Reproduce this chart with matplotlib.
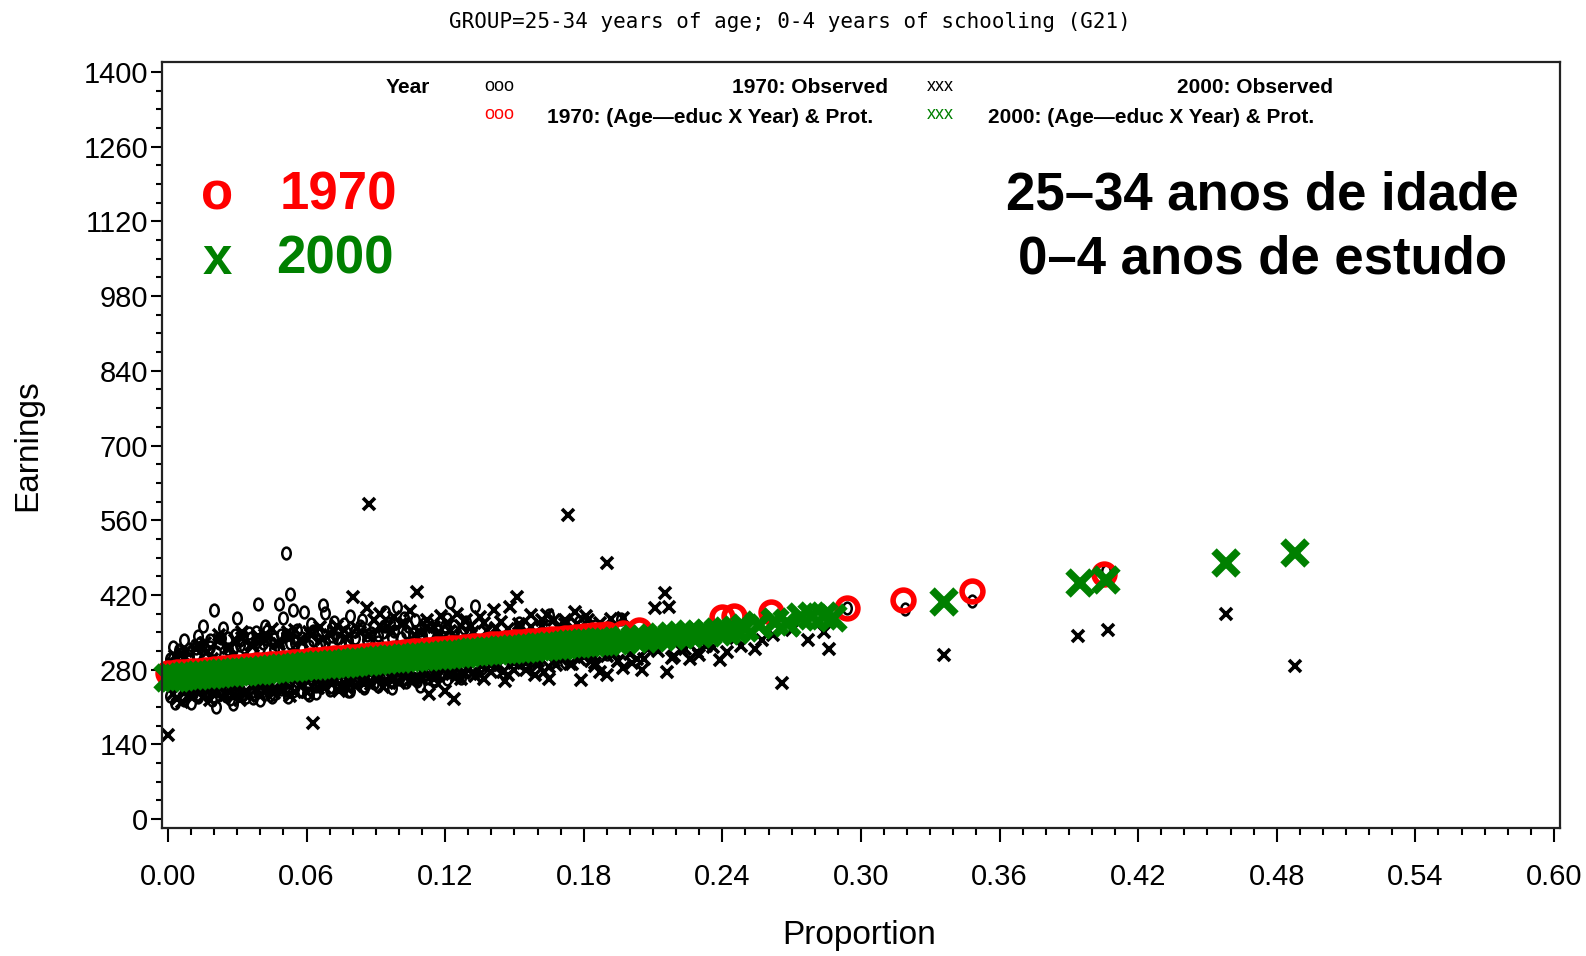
import matplotlib
matplotlib.use('Agg')
import matplotlib.pyplot as plt
from matplotlib.path import Path
from matplotlib.transforms import Affine2D
from matplotlib.ticker import MultipleLocator, FormatStrFormatter

plt.rcParams['font.family'] = ['Liberation Sans', 'DejaVu Sans']

title = 'GROUP=25-34 years of age; 0-4 years of schooling (G21)'

# 1970 observed (small black circles)
obs70_x = [0.001, 0.002, 0.004, 0.003, 0.006, 0.005, 0.007, 0.008, 0.009, 0.006,
           0.010, 0.012, 0.013, 0.015, 0.015, 0.017, 0.018, 0.019, 0.011, 0.016,
           0.020, 0.021, 0.022, 0.024, 0.025, 0.027, 0.028, 0.029, 0.026, 0.023,
           0.030, 0.031, 0.032, 0.034, 0.035, 0.036, 0.037, 0.038, 0.039, 0.039,
           0.040, 0.041, 0.042, 0.043, 0.044, 0.045, 0.046, 0.047, 0.048, 0.049,
           0.050, 0.051, 0.052, 0.053, 0.054, 0.054, 0.055, 0.056, 0.058, 0.059,
           0.060, 0.061, 0.062, 0.063, 0.064, 0.066, 0.067, 0.068, 0.069, 0.070,
           0.071, 0.072, 0.073, 0.075, 0.076, 0.077, 0.078, 0.079, 0.079,
           0.081, 0.082, 0.083, 0.085, 0.086, 0.087, 0.088, 0.089,
           0.091, 0.092, 0.094, 0.094, 0.096, 0.097, 0.099, 0.099,
           0.100, 0.102, 0.103, 0.104, 0.106, 0.108, 0.109,
           0.111, 0.111, 0.113, 0.115, 0.117, 0.118,
           0.120, 0.122, 0.122, 0.124, 0.126, 0.128,
           0.133, 0.136, 0.140, 0.145, 0.152, 0.160, 0.165, 0.172, 0.178, 0.185, 0.190, 0.196,
           0.294, 0.319, 0.348, 0.406,
           0.002, 0.005, 0.009, 0.012, 0.014, 0.018, 0.021, 0.023, 0.026, 0.029,
           0.031, 0.033, 0.036, 0.038, 0.041, 0.043, 0.046, 0.048, 0.051, 0.053,
           0.056, 0.058, 0.061, 0.063, 0.065, 0.068, 0.071, 0.073, 0.076, 0.078,
           0.081, 0.084, 0.086, 0.089, 0.091, 0.093, 0.096, 0.098, 0.101, 0.104,
           0.107, 0.110, 0.113, 0.116, 0.119, 0.121, 0.124, 0.127, 0.129,
           0.001, 0.004, 0.007, 0.010, 0.013, 0.016, 0.019, 0.022, 0.025, 0.028,
           0.031, 0.034, 0.037, 0.040, 0.043, 0.046, 0.049, 0.052, 0.055, 0.058,
           0.061, 0.064, 0.067, 0.070, 0.073, 0.076, 0.079, 0.082, 0.085, 0.088,
           0.091, 0.094, 0.097, 0.100, 0.103, 0.106, 0.109, 0.112, 0.115, 0.118,
           0.121, 0.124, 0.127]
obs70_y = [300, 323, 241, 218, 228, 317, 336, 252, 305, 262,
           218, 310, 342, 361, 247, 232, 322, 240, 236, 305,
           391, 209, 330, 357, 245, 224, 318, 236, 340, 252,
           376, 326, 232, 250, 348, 315, 226, 332, 403, 237,
           320, 245, 361, 338, 232, 228, 318, 255, 403, 345,
           376, 498, 248, 422, 391, 239, 330, 258, 322, 388,
           236, 232, 365, 335, 250, 328, 401, 386, 260, 247,
           342, 370, 255, 332, 248, 350, 239, 380, 266,
           340, 262, 361, 250, 336, 270, 348, 255,
           345, 265, 388, 361, 258, 340, 397, 270,
           262, 376, 350, 272, 346, 258, 355,
           270, 365, 348, 262, 352, 276,
           362, 407, 275, 350, 268, 358,
           399, 282, 355, 290, 368, 300, 382, 295, 370, 361, 310, 375,
           395, 393, 409, 465,
           301, 310, 318, 320, 330, 335, 312, 340, 318, 345,
           335, 322, 340, 350, 330, 352, 338, 322, 345, 330,
           355, 340, 325, 352, 345, 332, 358, 340, 365, 335,
           352, 372, 345, 360, 332, 350, 368, 352, 340, 362,
           372, 345, 365, 358, 340, 375, 362, 348, 370,
           230, 238, 222, 244, 228, 238, 222, 240, 230, 215,
           242, 228, 240, 222, 248, 235, 244, 228, 250, 240,
           252, 236, 255, 242, 262, 250, 240, 258, 245, 262,
           250, 266, 245, 270, 256, 265, 250, 272, 258, 270,
           262, 278, 265]

# 2000 observed (small black x)
obs00_x = [0.000, 0.002, 0.004, 0.006, 0.008, 0.009, 0.003, 0.007,
           0.011, 0.012, 0.014, 0.016, 0.018, 0.019, 0.013, 0.017,
           0.021, 0.022, 0.024, 0.026, 0.027, 0.029, 0.023, 0.028,
           0.031, 0.032, 0.034, 0.036, 0.037, 0.039, 0.033, 0.038,
           0.040, 0.042, 0.043, 0.045, 0.046, 0.048, 0.044, 0.049,
           0.050, 0.052, 0.053, 0.055, 0.057, 0.058, 0.051, 0.056,
           0.060, 0.061, 0.063, 0.064, 0.066, 0.068, 0.062, 0.067,
           0.070, 0.071, 0.073, 0.074, 0.076, 0.078, 0.072, 0.077,
           0.080, 0.081, 0.083, 0.084, 0.086, 0.087, 0.088, 0.089, 0.082, 0.085,
           0.090, 0.092, 0.093, 0.095, 0.096, 0.098, 0.091, 0.097,
           0.100, 0.101, 0.103, 0.105, 0.106, 0.108, 0.109, 0.102, 0.107,
           0.110, 0.112, 0.113, 0.115, 0.116, 0.118, 0.111, 0.117,
           0.120, 0.121, 0.123, 0.124, 0.125, 0.127, 0.129, 0.122, 0.128,
           0.130, 0.131, 0.133, 0.135, 0.136, 0.138, 0.132, 0.137,
           0.140, 0.141, 0.143, 0.144, 0.146, 0.148, 0.142, 0.147,
           0.150, 0.151, 0.153, 0.155, 0.157, 0.159, 0.152, 0.158,
           0.160, 0.162, 0.164, 0.165, 0.167, 0.169, 0.163,
           0.168, 0.172, 0.173, 0.176, 0.179, 0.178, 0.174,
           0.181, 0.185, 0.184, 0.188, 0.183, 0.187,
           0.190, 0.190, 0.193, 0.197, 0.195,
           0.205, 0.203, 0.208, 0.201,
           0.211, 0.215, 0.217, 0.216, 0.219,
           0.222, 0.229, 0.239, 0.233, 0.226,
           0.257, 0.266, 0.277, 0.284, 0.286, 0.262, 0.270, 0.246,
           0.336, 0.394, 0.407, 0.458, 0.488,
           0.003, 0.008, 0.013, 0.017, 0.022, 0.027, 0.032, 0.037, 0.042, 0.047,
           0.052, 0.057, 0.062, 0.067, 0.072, 0.077, 0.082, 0.087, 0.092, 0.097,
           0.102, 0.107, 0.112, 0.117, 0.122, 0.127, 0.132, 0.137, 0.142, 0.147,
           0.152, 0.157, 0.162, 0.167, 0.172, 0.177, 0.182, 0.187, 0.192, 0.197,
           0.002, 0.006, 0.010, 0.015, 0.020, 0.025, 0.030, 0.035, 0.040, 0.045,
           0.050, 0.055, 0.060, 0.065, 0.070, 0.075, 0.080, 0.085, 0.090, 0.095,
           0.100, 0.105, 0.110, 0.115, 0.120, 0.125, 0.130, 0.135, 0.140, 0.145,
           0.150, 0.155, 0.160, 0.165, 0.170, 0.175, 0.180, 0.185, 0.190, 0.195,
           0.200, 0.206, 0.212, 0.218, 0.224, 0.230, 0.236, 0.242, 0.248, 0.254]
obs00_y = [158, 290, 225, 310, 240, 232, 262, 300,
           228, 318, 250, 330, 222, 300, 236, 245,
           238, 345, 228, 320, 242, 335, 250, 232,
           222, 350, 240, 326, 248, 342, 236, 255,
           230, 336, 246, 356, 236, 328, 252, 240,
           244, 340, 230, 355, 250, 332, 255, 262,
           238, 350, 180, 258, 360, 245, 262, 252,
           345, 252, 362, 240, 355, 258, 265, 248,
           416, 250, 350, 262, 395, 590, 252, 372, 268, 258,
           260, 385, 248, 360, 268, 378, 272, 262,
           255, 365, 266, 390, 258, 425, 350, 272, 264,
           262, 372, 234, 360, 268, 380, 276, 270,
           240, 368, 272, 225, 385, 262, 372, 280, 276,
           280, 362, 268, 378, 286, 352, 274, 262,
           275, 392, 290, 370, 258, 398, 282, 270,
           280, 416, 362, 292, 382, 270, 288, 296,
           288, 372, 382, 262, 296, 360, 276,
           289, 373, 570, 388, 260, 300, 290,
           380, 287, 305, 350, 296, 276,
           480, 270, 312, 283, 296,
           279, 300, 318, 292,
           395, 423, 397, 275, 305,
           317, 313, 298, 325, 300,
           335, 255, 335, 350, 318, 345, 355, 340,
           307, 343, 354, 384, 287,
           305, 315, 325, 312, 335, 320, 340, 325, 345, 330,
           350, 335, 345, 338, 352, 340, 358, 345, 362, 350,
           368, 345, 360, 348, 352, 362, 350, 368, 358, 356,
           365, 360, 362, 372, 366, 365, 372, 368, 375, 376,
           235, 220, 240, 228, 245, 232, 248, 230, 250, 240,
           255, 238, 258, 245, 262, 250, 265, 252, 268, 255,
           272, 260, 276, 262, 280, 268, 284, 272, 288, 275,
           292, 280, 296, 284, 300, 290, 304, 292, 306, 296,
           310, 300, 314, 302, 318, 308, 322, 312, 325, 318]

# 1970 predicted: (Age-educ X Year) & Prot. (red circles)
pred70_x = [0.000, 0.002, 0.004, 0.006, 0.008, 0.010, 0.012, 0.014, 0.016, 0.018,
            0.020, 0.022, 0.024, 0.026, 0.028, 0.030, 0.032, 0.034, 0.036, 0.038,
            0.040, 0.042, 0.044, 0.046, 0.048, 0.050, 0.052, 0.054, 0.056, 0.058,
            0.060, 0.062, 0.064, 0.066, 0.068, 0.070, 0.072, 0.074, 0.076, 0.078,
            0.080, 0.082, 0.084, 0.086, 0.088, 0.090, 0.092, 0.094, 0.096, 0.098,
            0.100, 0.102, 0.104, 0.106, 0.108, 0.110, 0.112, 0.114, 0.116, 0.118,
            0.120, 0.122, 0.124, 0.126, 0.128, 0.130, 0.132, 0.134, 0.136, 0.138,
            0.140, 0.142, 0.144, 0.146, 0.148, 0.150, 0.152, 0.154, 0.156, 0.158,
            0.160, 0.162, 0.164, 0.166, 0.168, 0.170, 0.172, 0.174, 0.176, 0.178,
            0.180, 0.182, 0.184, 0.186, 0.188, 0.190,
            0.197, 0.204, 0.240, 0.245, 0.261, 0.294, 0.318, 0.348, 0.405]
pred70_y = [273, 274, 275, 275, 276, 277, 278, 278, 279, 280,
            281, 281, 282, 283, 284, 285, 285, 286, 287, 288,
            288, 289, 290, 291, 291, 292, 293, 294, 295, 295,
            296, 297, 298, 298, 299, 300, 301, 301, 302, 303,
            304, 304, 305, 306, 307, 308, 308, 309, 310, 311,
            311, 312, 313, 314, 314, 315, 316, 317, 318, 318,
            319, 320, 321, 321, 322, 323, 324, 324, 325, 326,
            327, 328, 328, 329, 330, 331, 331, 332, 333, 334,
            334, 335, 336, 337, 338, 338, 339, 340, 341, 341,
            342, 343, 344, 344, 345, 346,
            349, 354, 378, 380, 388, 396, 410, 428, 460]

# 2000 predicted: (Age-educ X Year) & Prot. (green x)
pred00_x = [0.000, 0.002, 0.004, 0.006, 0.008, 0.010, 0.012, 0.014, 0.016, 0.018,
            0.020, 0.022, 0.024, 0.026, 0.028, 0.030, 0.032, 0.034, 0.036, 0.038,
            0.040, 0.042, 0.044, 0.046, 0.048, 0.050, 0.052, 0.054, 0.056, 0.058,
            0.060, 0.062, 0.064, 0.066, 0.068, 0.070, 0.072, 0.074, 0.076, 0.078,
            0.080, 0.082, 0.084, 0.086, 0.088, 0.090, 0.092, 0.094, 0.096, 0.098,
            0.100, 0.102, 0.104, 0.106, 0.108, 0.110, 0.112, 0.114, 0.116, 0.118,
            0.120, 0.122, 0.124, 0.126, 0.128, 0.130, 0.132, 0.134, 0.136, 0.138,
            0.140, 0.142, 0.144, 0.146, 0.148, 0.150, 0.152, 0.154, 0.156, 0.158,
            0.160, 0.162, 0.164, 0.166, 0.168, 0.170, 0.172, 0.174, 0.176, 0.178,
            0.180, 0.182, 0.184, 0.186, 0.188, 0.190,
            0.194, 0.198, 0.202, 0.206, 0.210, 0.214, 0.218, 0.222, 0.226, 0.230,
            0.234, 0.238, 0.242, 0.246, 0.250, 0.256, 0.263, 0.268, 0.274, 0.279,
            0.284, 0.288, 0.336, 0.395, 0.406, 0.458, 0.488]
pred00_y = [264, 265, 265, 266, 267, 268, 268, 269, 270, 270,
            271, 272, 273, 273, 274, 275, 276, 276, 277, 278,
            278, 279, 280, 281, 281, 282, 283, 283, 284, 285,
            286, 286, 287, 288, 288, 289, 290, 291, 291, 292,
            293, 294, 294, 295, 296, 296, 297, 298, 299, 299,
            300, 301, 301, 302, 303, 304, 304, 305, 306, 306,
            307, 308, 309, 309, 310, 311, 312, 312, 313, 314,
            314, 315, 316, 317, 317, 318, 319, 319, 320, 321,
            322, 322, 323, 324, 324, 325, 326, 327, 327, 328,
            329, 330, 330, 331, 332, 332,
            334, 335, 337, 338, 340, 341, 343, 344, 346, 347,
            349, 350, 352, 354, 358, 364, 370, 368, 378, 380,
            380, 377, 407, 442, 448, 480, 498]

oval = Affine2D().scale(0.72, 1.0).transform_path(Path.unit_circle())

fig = plt.figure(figsize=(15.86, 9.56), dpi=100)
ax = fig.add_axes([0.1021, 0.1339, 0.8815, 0.8013])

ax.plot(obs70_x, obs70_y, linestyle='none', marker=oval, ms=8.5, mfc='none',
        mec='black', mew=1.8)
ax.plot(obs00_x, obs00_y, linestyle='none', marker='x', ms=8.5, mec='black', mew=2.6)
ax.plot(pred70_x, pred70_y, linestyle='none', marker='o', ms=15, mfc='none',
        mec='#ff0000', mew=4, clip_on=False)
ax.plot(pred00_x, pred00_y, linestyle='none', marker='x', ms=17.5, mec='#008000',
        mew=5.5, clip_on=False)

ax.set_xlim(-0.0026, 0.6026)
ax.set_ylim(-17, 1419)
ax.xaxis.set_major_locator(MultipleLocator(0.06))
ax.xaxis.set_minor_locator(MultipleLocator(0.01))
ax.xaxis.set_major_formatter(FormatStrFormatter('%.2f'))
ax.yaxis.set_major_locator(MultipleLocator(140))
ax.yaxis.set_minor_locator(MultipleLocator(35))
ax.tick_params(axis='x', which='major', length=10, width=1.5, pad=15, labelsize=21)
ax.tick_params(axis='x', which='minor', length=5, width=1.5)
ax.tick_params(axis='y', which='major', length=8, width=1.5, pad=2, labelsize=21)
ax.tick_params(axis='y', which='minor', length=4, width=1.5)
for s in ax.spines.values():
    s.set_linewidth(1.6)
    s.set_color('#222222')

# title and axis labels
fig.text(0.498, 0.977, title, family='DejaVu Sans Mono', fontsize=15,
         ha='center', va='center')
fig.text(0.542, 0.021, 'Proportion', fontsize=24, ha='center', va='center')
fig.text(0.0177, 0.5345, 'Earnings', fontsize=24, rotation=90, ha='center', va='center')

# legend rows at the top of the plot
leg_fs = 15
fig.text(0.257, 0.908, 'Year', fontsize=leg_fs, fontweight='bold', ha='center', va='center')
fig.text(0.315, 0.910, 'ooo', fontsize=13, ha='center', va='center', color='black')
fig.text(0.560, 0.908, '1970: Observed', fontsize=leg_fs, fontweight='bold', ha='right', va='center')
fig.text(0.593, 0.910, 'xxx', fontsize=13, ha='center', va='center', color='black')
fig.text(0.8405, 0.908, '2000: Observed', fontsize=leg_fs, fontweight='bold', ha='right', va='center')
fig.text(0.315, 0.880, 'ooo', fontsize=13, ha='center', va='center', color='#ff0000')
fig.text(0.345, 0.877, '1970: (Age\u2014educ X Year) & Prot.', fontsize=leg_fs,
         fontweight='bold', ha='left', va='center')
fig.text(0.593, 0.880, 'xxx', fontsize=13, ha='center', va='center', color='#008000')
fig.text(0.623, 0.877, '2000: (Age\u2014educ X Year) & Prot.', fontsize=leg_fs,
         fontweight='bold', ha='left', va='center')

# big annotations
big = 38
fig.text(217 / 1586, 1 - 195 / 956, 'o', fontsize=big, fontweight='bold',
         color='#ff0000', ha='center', va='center')
fig.text(280 / 1586, 1 - 195 / 956, '1970', fontsize=big, fontweight='bold',
         color='#ff0000', ha='left', va='center')
fig.text(217 / 1586, 1 - 260 / 956, 'x', fontsize=big, fontweight='bold',
         color='#008000', ha='center', va='center')
fig.text(276 / 1586, 1 - 260 / 956, '2000', fontsize=big, fontweight='bold',
         color='#008000', ha='left', va='center')
fig.text(1262 / 1586, 1 - 195 / 956, '25\u201334 anos de idade', fontsize=big,
         fontweight='bold', ha='center', va='center')
fig.text(1262 / 1586, 1 - 260 / 956, '0\u20134 anos de estudo', fontsize=big,
         fontweight='bold', ha='center', va='center')

fig.savefig('out.png', dpi=100)
